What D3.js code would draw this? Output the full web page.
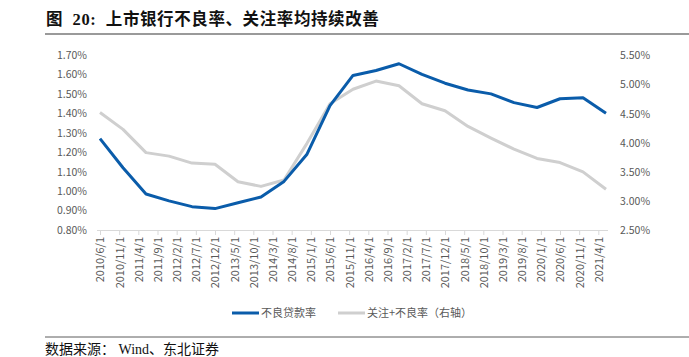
<!DOCTYPE html>
<html><head><meta charset="utf-8">
<script src="https://cdn.jsdelivr.net/npm/d3@7"></script>
<style>
body{margin:0;background:#fff;}
svg{display:block;}
</style></head>
<body><svg id="c" width="689" height="357"></svg>
<script>
const dates = ["2010/6","2010/12","2011/6","2011/12","2012/6","2012/12","2013/6","2013/12","2014/6","2014/12","2015/6","2015/12","2016/6","2016/12","2017/6","2017/12","2018/6","2018/12","2019/6","2019/12","2020/6","2020/12","2021/6"];
const nplRate = [1.27,1.12,0.985,0.95,0.92,0.91,0.94,0.97,1.05,1.19,1.44,1.595,1.62,1.655,1.60,1.555,1.52,1.50,1.455,1.43,1.475,1.48,1.40];
const specialPlusNpl = [4.52,4.23,3.83,3.77,3.65,3.63,3.33,3.25,3.36,3.99,4.67,4.92,5.06,4.98,4.67,4.55,4.28,4.08,3.89,3.73,3.66,3.50,3.20];
const tickLabels = ["2010/6/1","2010/11/1","2011/4/1","2011/9/1","2012/2/1","2012/7/1","2012/12/1","2013/5/1","2013/10/1","2014/3/1","2014/8/1","2015/1/1","2015/6/1","2015/11/1","2016/4/1","2016/9/1","2017/2/1","2017/7/1","2017/12/1","2018/5/1","2018/10/1","2019/3/1","2019/8/1","2020/1/1","2020/6/1","2020/11/1","2021/4/1"];
const leftTicks = [0.8,0.9,1.0,1.1,1.2,1.3,1.4,1.5,1.6,1.7];
const rightTicks = [2.5,3.0,3.5,4.0,4.5,5.0,5.5];
const seriesNames = ["不良贷款率","关注+不良率（右轴）"];
const title = "图  20:  上市银行不良率、关注率均持续改善";
const source = "数据来源： Wind、东北证券";

const mi = s => { const p = s.split("/").map(Number); return (p[0]-2010)*12 + (p[1]-6); };
const svg = d3.select("#c");
const txtFont = "'Noto Sans CJK SC','Open Sans',sans-serif";
const x = d3.scaleLinear().domain([0,132]).range([100,606]);
const yL = d3.scaleLinear().domain([0.8,1.7]).range([230,55]);
const yR = d3.scaleLinear().domain([2.5,5.5]).range([230,55.5]);

// title
svg.append("text").attr("x",46).attr("y",25).attr("font-family","'Liberation Serif','Noto Sans CJK SC',serif")
  .style("white-space","pre")
  .attr("font-weight","bold").attr("font-size",16.5).attr("fill","#111").attr("letter-spacing","0.6px").text(title);
svg.append("line").attr("x1",45).attr("x2",689).attr("y1",34).attr("y2",34).attr("stroke","#9a9a9a").attr("stroke-width",2);

// x axis
const xAxis = d3.axisBottom(x).tickValues(tickLabels.map(mi)).tickSize(5)
  .tickFormat((d,i)=>tickLabels[i]);
const gx = svg.append("g").attr("transform","translate(0,230)").call(xAxis);
gx.select(".domain").attr("d","M97,0.5H608").attr("stroke","#d9d9d9");
gx.selectAll(".tick line").attr("stroke","#d9d9d9");
gx.selectAll(".tick text").attr("transform","rotate(-90)").attr("text-anchor","end")
  .attr("x",-7).attr("y",0).attr("dy","0.35em").attr("fill","#595959")
  .attr("font-size",11).attr("font-family",txtFont);

// left axis
const gl = svg.append("g").attr("transform","translate(87,0)")
  .call(d3.axisLeft(yL).tickValues(leftTicks).tickSize(0).tickFormat(d=>d.toFixed(2)+"%"));
gl.select(".domain").remove();
gl.selectAll("text").attr("fill","#595959").attr("font-size",10.5).attr("font-family",txtFont).attr("x",0);

// right axis
const gr = svg.append("g").attr("transform","translate(620,0)")
  .call(d3.axisRight(yR).tickValues(rightTicks).tickSize(0).tickFormat(d=>d.toFixed(2)+"%"));
gr.select(".domain").remove();
gr.selectAll("text").attr("fill","#595959").attr("font-size",10.5).attr("font-family",txtFont).attr("x",0);

// lines
const lineL = d3.line().x((d,i)=>x(mi(dates[i]))).y(d=>yL(d));
const lineR = d3.line().x((d,i)=>x(mi(dates[i]))).y(d=>yR(d));
svg.append("path").datum(specialPlusNpl).attr("d",lineR).attr("fill","none")
  .attr("stroke","#cfcfcf").attr("stroke-width",3).attr("stroke-linejoin","round");
svg.append("path").datum(nplRate).attr("d",lineL).attr("fill","none")
  .attr("stroke","#0a5caa").attr("stroke-width",3).attr("stroke-linejoin","round");

// legend
const leg = [{c:"#0a5caa",x:232},{c:"#cfcfcf",x:338}];
leg.forEach((l,i)=>{
  svg.append("line").attr("x1",l.x).attr("x2",l.x+27).attr("y1",313).attr("y2",313).attr("stroke",l.c).attr("stroke-width",3);
  svg.append("text").attr("x",l.x+29).attr("y",317).attr("font-size",11).attr("fill","#595959")
    .attr("font-family",txtFont).text(seriesNames[i]);
});

// source
svg.append("line").attr("x1",45).attr("x2",689).attr("y1",337).attr("y2",337).attr("stroke","#333").attr("stroke-width",0.8);
svg.append("text").attr("x",45).attr("y",354).attr("font-size",14).attr("fill","#111").style("white-space","pre")
  .attr("font-family","'Liberation Serif','Noto Sans CJK SC',serif").text(source);
</script></body></html>
